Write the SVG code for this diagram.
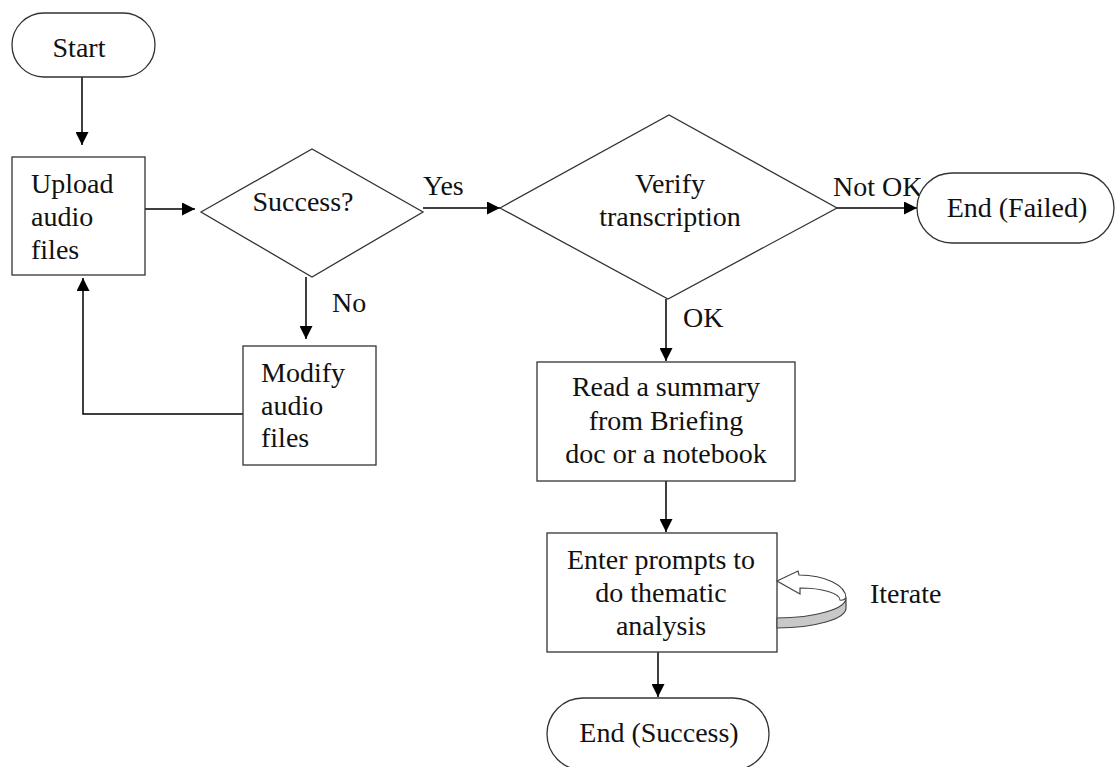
<svg xmlns="http://www.w3.org/2000/svg" width="1115" height="767" viewBox="0 0 1115 767">
<defs>
<marker id="ah" viewBox="0 0 10 10" markerWidth="13" markerHeight="13" markerUnits="userSpaceOnUse" refX="10" refY="5" orient="auto">
<path d="M0,0 L10,5 L0,10 Z" fill="#000"/>
</marker>
<style>
.shape{fill:#fff;stroke:#333;stroke-width:1.3}
.conn{fill:none;stroke:#000;stroke-width:1.5}
text{font-family:"Liberation Serif","Times New Roman",serif;font-size:28px;fill:#111}
.mid{text-anchor:middle}
</style>
</defs>
<rect width="1115" height="767" fill="#fff"/>
<g id="connectors">
<path class="conn" d="M82,77 L82,145" marker-end="url(#ah)"/>
<path class="conn" d="M145,209 L195,209" marker-end="url(#ah)"/>
<path class="conn" d="M423,208 L500,208" marker-end="url(#ah)"/>
<path class="conn" d="M306,277 L306,339" marker-end="url(#ah)"/>
<path class="conn" d="M243,414 L83,414 L83,278" marker-end="url(#ah)"/>
<path class="conn" d="M837,208 L917,208" marker-end="url(#ah)"/>
<path class="conn" d="M666,299 L666,361" marker-end="url(#ah)"/>
<path class="conn" d="M666,481 L666,532" marker-end="url(#ah)"/>
<path class="conn" d="M658,652 L658,697" marker-end="url(#ah)"/>
<text x="423" y="195">Yes</text>
<text x="332" y="312">No</text>
<text x="833" y="196">Not OK</text>
<text x="683" y="327">OK</text>
</g>
<g id="start">
<rect class="shape" x="12" y="13" width="143" height="64" rx="32"/>
<text class="mid" x="79" y="57">Start</text>
</g>
<g id="upload">
<rect class="shape" x="12" y="157" width="133" height="118"/>
<text x="31" y="193">Upload</text>
<text x="31" y="226">audio</text>
<text x="31" y="259">files</text>
</g>
<g id="success">
<polygon class="shape" points="201,212 312,149 423,212 312,277"/>
<text class="mid" x="303" y="211">Success?</text>
</g>
<g id="modify">
<rect class="shape" x="243" y="346" width="133" height="119"/>
<text x="261" y="382">Modify</text>
<text x="261" y="415">audio</text>
<text x="261" y="447">files</text>
</g>
<g id="verify">
<polygon class="shape" points="500,208 669,115 837,208 668,299"/>
<text class="mid" x="670" y="193">Verify</text>
<text class="mid" x="670" y="226">transcription</text>
</g>
<g id="end-failed">
<rect class="shape" x="917" y="173" width="197" height="70" rx="35"/>
<text class="mid" x="1017" y="217">End (Failed)</text>
</g>
<g id="read">
<rect class="shape" x="537" y="362" width="258" height="119"/>
<text class="mid" x="666" y="396">Read a summary</text>
<text class="mid" x="666" y="430">from Briefing</text>
<text class="mid" x="666" y="463">doc or a notebook</text>
</g>
<g id="enter">
<rect class="shape" x="547" y="533" width="230" height="119"/>
<text class="mid" x="661" y="569">Enter prompts to</text>
<text class="mid" x="661" y="602">do thematic</text>
<text class="mid" x="661" y="635">analysis</text>
</g>
<g id="iterate">
<path d="M777,618 A70,20 0 0 0 846,598 L846,608 A70,20 0 0 1 777,628 Z" fill="#c8c8c8" stroke="#444" stroke-width="1.2"/>
<path d="M777,581 L798,571 L799,575 A47,23 0 0 1 846,598 Q843,601 840,600 A40,12 0 0 0 800,588 L800,594 Z" fill="#fff" stroke="#444" stroke-width="1.2"/>
<text x="870" y="603">Iterate</text>
</g>
<g id="end-success">
<rect class="shape" x="547" y="698" width="222" height="72" rx="36"/>
<text class="mid" x="659" y="742">End (Success)</text>
</g>
</svg>
